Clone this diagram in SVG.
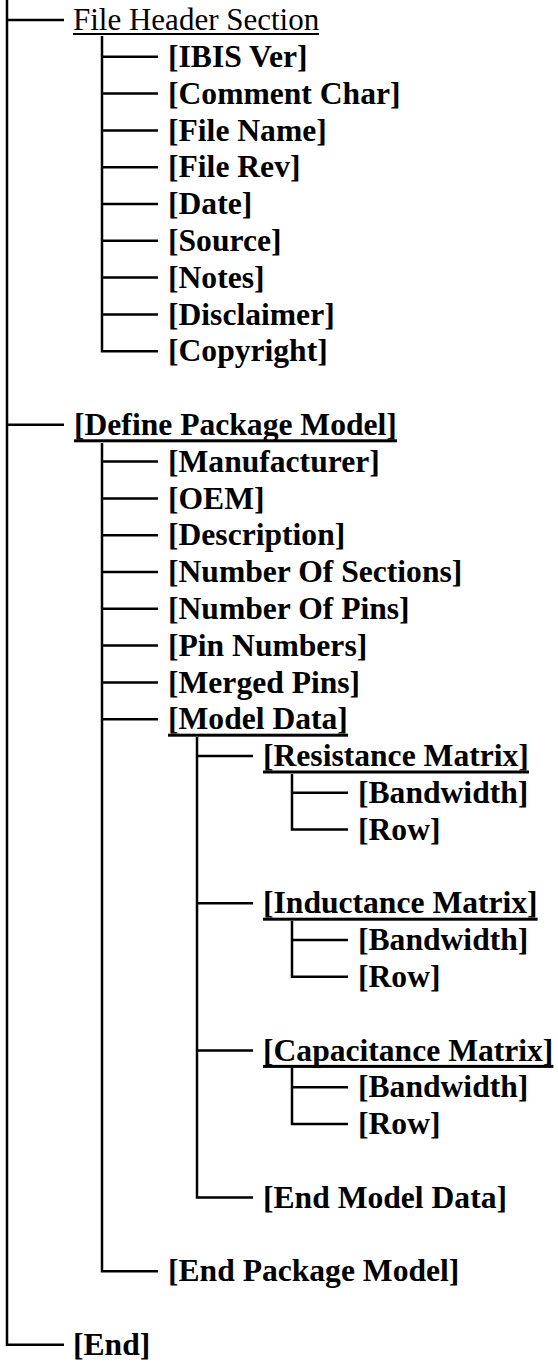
<svg xmlns="http://www.w3.org/2000/svg" width="558" height="1362" viewBox="0 0 558 1362">
<style>
.t{font-family:"Liberation Serif","Times New Roman",serif;font-size:31.6px;fill:#000;font-weight:bold}
.r{font-weight:normal;font-size:31px}
.u{fill:#000}
.c{stroke:#000;stroke-width:2.5;fill:none}
</style>
<rect width="558" height="1362" fill="#fff"/>
<g id="connectors" class="c">
<path d="M7 0 V1344.8 H64"/>
<path d="M7 20 H64"/>
<path d="M7 424.8 H64"/>
<path d="M102 36 V351.2 H158"/>
<path d="M102 56.8 H158 M102 93.6 H158 M102 130.4 H158 M102 167.2 H158 M102 204 H158 M102 240.8 H158 M102 277.6 H158 M102 314.4 H158"/>
<path d="M102 443 V1271.2 H158"/>
<path d="M102 461.6 H158 M102 498.4 H158 M102 535.2 H158 M102 572 H158 M102 608.8 H158 M102 645.6 H158 M102 682.4 H158 M102 719.2 H158"/>
<path d="M197 737 V1197.6 H253"/>
<path d="M197 756 H253 M197 903.2 H253 M197 1050.4 H253"/>
<path d="M292 774 V829.6 H348 M292 792.8 H348"/>
<path d="M292 921 V976.8 H348 M292 940 H348"/>
<path d="M292 1068 V1124 H348 M292 1087.2 H348"/>
</g>
<g id="n-file-header"><text class="t r" x="73" y="30">File Header Section</text><rect class="u" x="73" y="33" width="246" height="2"/></g>
<g id="n-ibis-ver"><text class="t" x="168" y="67">[IBIS Ver]</text></g>
<g id="n-comment-char"><text class="t" x="168" y="103.8">[Comment Char]</text></g>
<g id="n-file-name"><text class="t" x="168" y="140.6">[File Name]</text></g>
<g id="n-file-rev"><text class="t" x="168" y="177.4">[File Rev]</text></g>
<g id="n-date"><text class="t" x="168" y="214.2">[Date]</text></g>
<g id="n-source"><text class="t" x="168" y="251">[Source]</text></g>
<g id="n-notes"><text class="t" x="168" y="287.8">[Notes]</text></g>
<g id="n-disclaimer"><text class="t" x="168" y="324.6">[Disclaimer]</text></g>
<g id="n-copyright"><text class="t" x="168" y="361.4">[Copyright]</text></g>
<g id="n-define-package-model"><text class="t" x="74" y="435">[Define Package Model]</text><rect class="u" x="74" y="439.3" width="323" height="3"/></g>
<g id="n-manufacturer"><text class="t" x="168" y="471.8">[Manufacturer]</text></g>
<g id="n-oem"><text class="t" x="168" y="508.6">[OEM]</text></g>
<g id="n-description"><text class="t" x="168" y="545.4">[Description]</text></g>
<g id="n-number-of-sections"><text class="t" x="168" y="582.2">[Number Of Sections]</text></g>
<g id="n-number-of-pins"><text class="t" x="168" y="619">[Number Of Pins]</text></g>
<g id="n-pin-numbers"><text class="t" x="168" y="655.8">[Pin Numbers]</text></g>
<g id="n-merged-pins"><text class="t" x="168" y="692.6">[Merged Pins]</text></g>
<g id="n-model-data"><text class="t" x="168" y="729.4">[Model Data]</text><rect class="u" x="168" y="733.7" width="180" height="3"/></g>
<g id="n-resistance-matrix"><text class="t" x="263" y="766.2">[Resistance Matrix]</text><rect class="u" x="263" y="770.5" width="266" height="3"/></g>
<g id="n-res-bandwidth"><text class="t" x="358" y="803">[Bandwidth]</text></g>
<g id="n-res-row"><text class="t" x="358" y="839.8">[Row]</text></g>
<g id="n-inductance-matrix"><text class="t" x="263" y="913.4">[Inductance Matrix]</text><rect class="u" x="263" y="917.7" width="274.6" height="3"/></g>
<g id="n-ind-bandwidth"><text class="t" x="358" y="950.2">[Bandwidth]</text></g>
<g id="n-ind-row"><text class="t" x="358" y="987">[Row]</text></g>
<g id="n-capacitance-matrix"><text class="t" x="263" y="1060.6">[Capacitance Matrix]</text><rect class="u" x="263" y="1064.9" width="290.4" height="3"/></g>
<g id="n-cap-bandwidth"><text class="t" x="358" y="1097.4">[Bandwidth]</text></g>
<g id="n-cap-row"><text class="t" x="358" y="1134.2">[Row]</text></g>
<g id="n-end-model-data"><text class="t" x="263" y="1207.8">[End Model Data]</text></g>
<g id="n-end-package-model"><text class="t" x="168" y="1281.4">[End Package Model]</text></g>
<g id="n-end"><text class="t" x="73" y="1355">[End]</text></g>
</svg>
